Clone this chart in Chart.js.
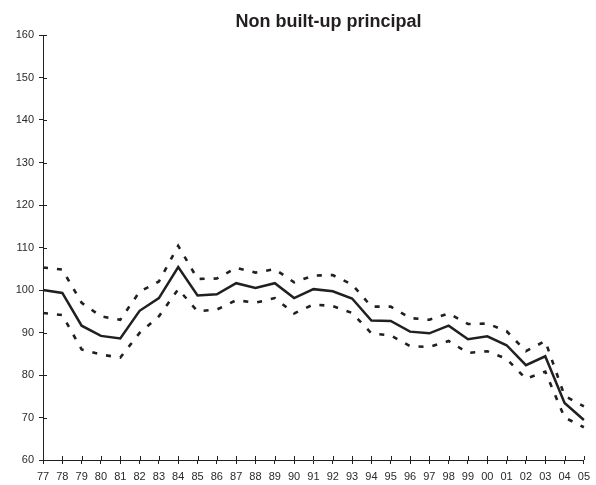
<!DOCTYPE html>
<html>
<head>
<meta charset="utf-8">
<script src="https://cdn.jsdelivr.net/npm/chart.js@4/dist/chart.umd.min.js"></script>
<style>
  html, body { margin: 0; padding: 0; background: #fff; }
  #wrap { width: 596px; height: 485px; position: relative; }
</style>
</head>
<body>
<div id="wrap"><canvas id="c" width="596" height="485"></canvas></div>
<script>
// Years (two-digit labels along the x axis)
const years = ['77','78','79','80','81','82','83','84','85','86','87','88','89','90','91',
               '92','93','94','95','96','97','98','99','00','01','02','03','04','05'];

// Central index
const principal = [100.0, 99.3, 91.6, 89.2, 88.6, 95.1, 98.1, 105.4, 98.7, 99.0, 101.6, 100.5, 101.6, 98.1, 100.2,
                   99.7, 98.0, 92.8, 92.7, 90.2, 89.8, 91.6, 88.4, 89.1, 87.0, 82.3, 84.4, 73.4, 69.4];

// Upper band
const upperBand = [105.3, 104.8, 97.0, 93.8, 93.0, 99.6, 102.0, 110.4, 102.6, 102.7, 105.2, 104.1, 104.9, 101.8, 103.4,
                   103.5, 101.3, 96.1, 96.1, 93.4, 93.0, 94.5, 92.0, 92.1, 90.3, 85.6, 88.0, 75.1, 72.6];

// Lower band
const lowerBand = [94.6, 94.1, 86.0, 84.8, 84.1, 89.9, 93.8, 100.2, 95.0, 95.4, 97.6, 97.0, 98.1, 94.5, 96.6,
                   96.2, 94.6, 89.8, 89.3, 86.8, 86.6, 88.0, 85.2, 85.6, 83.8, 79.1, 80.8, 70.0, 67.7];

// Y axis tick values
const yTicks = [60, 70, 80, 90, 100, 110, 120, 130, 140, 150, 160];

const titleText = 'Non built-up principal';
const ink = '#231f20';

// Tick marks that cross the axis line (inner half; outer half comes from the grid ticks), plus the title
const crossTicks = {
  id: 'crossTicks',
  afterDraw(chart) {
    const ctx = chart.ctx;
    const x = chart.scales.x, y = chart.scales.y;
    ctx.save();
    ctx.strokeStyle = ink;
    ctx.lineWidth = 1;
    ctx.beginPath();
    y.ticks.forEach((t, i) => {
      const py = Math.round(y.getPixelForTick(i)) + 0.5;
      ctx.moveTo(x.left, py); ctx.lineTo(x.left + 4, py);
    });
    x.ticks.forEach((t, i) => {
      const px = Math.round(x.getPixelForTick(i)) + 0.5;
      ctx.moveTo(px, y.bottom); ctx.lineTo(px, y.bottom - 4);
    });
    ctx.stroke();
    ctx.fillStyle = ink;
    ctx.font = 'bold 18px "Liberation Sans", Arial, sans-serif';
    ctx.textAlign = 'center';
    ctx.textBaseline = 'alphabetic';
    ctx.fillText(titleText, 328.5, 27);
    ctx.restore();
  }
};

new Chart(document.getElementById('c'), {
  type: 'line',
  data: {
    labels: years,
    datasets: [
      { data: upperBand, borderColor: ink, borderWidth: 2.6, borderDash: [5, 9], pointRadius: 0, tension: 0, fill: false },
      { data: lowerBand, borderColor: ink, borderWidth: 2.6, borderDash: [5, 9], pointRadius: 0, tension: 0, fill: false },
      { data: principal, borderColor: ink, borderWidth: 2.5, pointRadius: 0, tension: 0, fill: false }
    ]
  },
  options: {
    responsive: false,
    animation: false,
    layout: { padding: { top: 35, right: 11, bottom: 0, left: 0 } },
    plugins: { legend: { display: false }, title: { display: false }, tooltip: { enabled: false } },
    scales: {
      x: {
        type: 'category',
        offset: false,
        border: { display: true, color: ink, width: 1 },
        grid: { display: true, drawOnChartArea: false, drawTicks: true, tickLength: 4, color: ink },
        ticks: {
          autoSkip: false, maxRotation: 0, padding: 6,
          color: '#2a2a2a', font: { family: '"Liberation Sans", Arial, sans-serif', size: 11 }
        },
        afterFit(scale) { scale.height = 25; }
      },
      y: {
        min: 60, max: 160,
        border: { display: true, color: ink, width: 1 },
        grid: { display: true, drawOnChartArea: false, drawTicks: true, tickLength: 4, color: ink },
        afterBuildTicks(scale) { scale.ticks = yTicks.map(v => ({ value: v })); },
        ticks: {
          padding: 5,
          color: '#2a2a2a', font: { family: '"Liberation Sans", Arial, sans-serif', size: 11 }
        },
        afterFit(scale) { scale.width = 43; }
      }
    }
  },
  plugins: [crossTicks]
});
</script>
</body>
</html>
